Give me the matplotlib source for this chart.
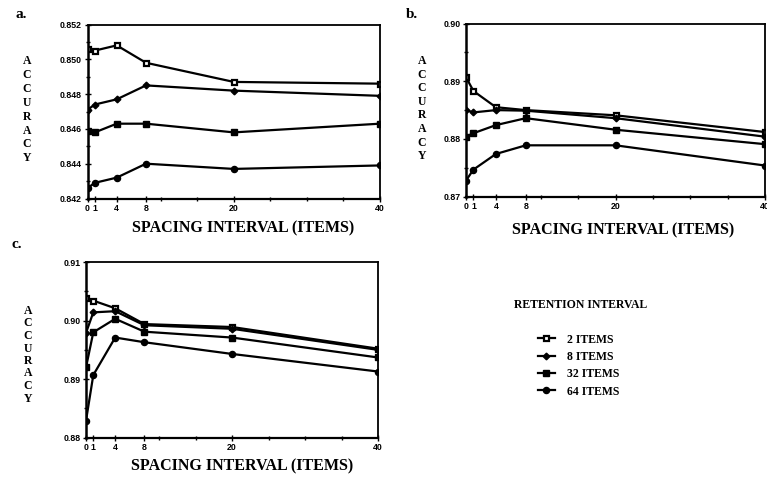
import numpy as np
import matplotlib
matplotlib.use('Agg')
import matplotlib.pyplot as plt
from matplotlib.lines import Line2D
from matplotlib.ticker import MultipleLocator, FixedLocator

# spacing interval (items)
x = [0, 1, 4, 8, 20, 40]
xticklabels = ['0', '1', '4', '8', '20', '40']

# panel a
a_2 = [0.8506, 0.8505, 0.8508, 0.8498, 0.8487, 0.8486]
a_8 = [0.8471, 0.8474, 0.8477, 0.8485, 0.8482, 0.8479]
a_32 = [0.8459, 0.8458, 0.8463, 0.8463, 0.8458, 0.8463]
a_64 = [0.8426, 0.8429, 0.8432, 0.8440, 0.8437, 0.8439]

# panel b
b_2 = [0.8907, 0.8883, 0.8855, 0.8850, 0.8841, 0.8812]
b_8 = [0.8850, 0.8846, 0.8850, 0.8849, 0.8836, 0.8804]
b_32 = [0.8804, 0.8810, 0.8824, 0.8836, 0.8816, 0.8791]
b_64 = [0.8728, 0.8747, 0.8774, 0.8789, 0.8789, 0.8754]

# panel c
c_2 = [0.9038, 0.9034, 0.9021, 0.8994, 0.8989, 0.8952]
c_8 = [0.8979, 0.9014, 0.9016, 0.8992, 0.8986, 0.8950]
c_32 = [0.8920, 0.8980, 0.9003, 0.8981, 0.8971, 0.8937]
c_64 = [0.8829, 0.8907, 0.8971, 0.8963, 0.8943, 0.8913]

legend_labels = ['2 ITEMS', '8 ITEMS', '32 ITEMS', '64 ITEMS']

W, H = 767, 478
fig = plt.figure(figsize=(W / 100, H / 100), dpi=100)

serif = 'Liberation Serif'
sans = 'Liberation Sans'

styles = [
    dict(marker='s', mfc='white', mec='black', ms=3.6, mew=1.6),
    dict(marker='D', mfc='black', mec='black', ms=3.4),
    dict(marker='s', mfc='black', mec='black', ms=4.2),
    dict(marker='o', mfc='black', mec='black', ms=4.4),
]


def px_rect(l, t, r, b):
    return [l / W, 1 - b / H, (r - l) / W, (b - t) / H]


def panel(rect, series, ylim, ystep, yminor, fmt, letter, letter_xy, acc_x, acc_y0, acc_dy, xl_xy):
    ax = fig.add_axes(px_rect(*rect))
    for s, st in zip(series, styles):
        ax.plot(x, s, color='black', lw=1.6, **st)
    ax.set_xlim(0, 40)
    ax.set_ylim(*ylim)
    ax.set_xticks(x)
    ax.set_xticklabels(xticklabels)
    ax.xaxis.set_minor_locator(FixedLocator([10, 15, 25, 30, 35]))
    yt = np.arange(ylim[0], ylim[1] + ystep / 2, ystep)
    ax.set_yticks(yt)
    ax.set_yticklabels([fmt.format(v) for v in yt])
    ax.yaxis.set_minor_locator(MultipleLocator(yminor))
    ax.tick_params(which='both', direction='inout', width=1.0)
    ax.tick_params(which='major', length=4, labelsize=6.3, pad=2)
    ax.tick_params(which='minor', length=2.5)
    for lab in ax.get_xticklabels() + ax.get_yticklabels():
        lab.set_fontweight('bold')
        lab.set_family(sans)
    for sp in ax.spines.values():
        sp.set_linewidth(1.3)
    ax.spines['left'].set_linewidth(1.8)
    ax.spines['bottom'].set_linewidth(1.6)
    fig.text(letter_xy[0] / W, 1 - letter_xy[1] / H, letter, family=serif,
             fontweight='bold', fontsize=11, ha='center', va='center')
    for i, ch in enumerate('ACCURACY'):
        fig.text(acc_x / W, 1 - (acc_y0 + i * acc_dy) / H, ch, family=serif,
                 fontweight='bold', fontsize=8.5, ha='center', va='center')
    fig.text(xl_xy[0] / W, 1 - xl_xy[1] / H, 'SPACING INTERVAL (ITEMS)', family=serif,
             fontweight='bold', fontsize=11.5, ha='center', va='center')
    return ax


panel((87.5, 24.5, 380, 198.5), [a_2, a_8, a_32, a_64], (0.842, 0.852), 0.002, 0.001,
      '{:.3f}', 'a.', (21, 15), 27, 61, 13.9, (243, 228))
panel((466, 23.5, 765, 196.7), [b_2, b_8, b_32, b_64], (0.87, 0.90), 0.01, 0.005,
      '{:.2f}', 'b.', (412, 14), 422, 61, 13.6, (623, 230))
panel((86, 262, 378, 437.7), [c_2, c_8, c_32, c_64], (0.88, 0.91), 0.01, 0.005,
      '{:.2f}', 'c.', (17, 245), 28, 311, 12.5, (242, 466))

# legend
fig.text(581 / W, 1 - 305 / H, 'RETENTION INTERVAL', family=serif, fontweight='bold',
         fontsize=8.5, ha='center', va='center')
handles = [Line2D([0], [0], color='black', lw=1.6, **st) for st in styles]
leg = fig.legend(handles, legend_labels, loc='upper left',
                 bbox_to_anchor=(527 / W, 1 - 323 / H), frameon=False,
                 handlelength=1.5, handletextpad=1.0, labelspacing=0.45,
                 prop={'family': serif, 'weight': 'bold', 'size': 8.5})

fig.savefig('out.png', dpi=100)
